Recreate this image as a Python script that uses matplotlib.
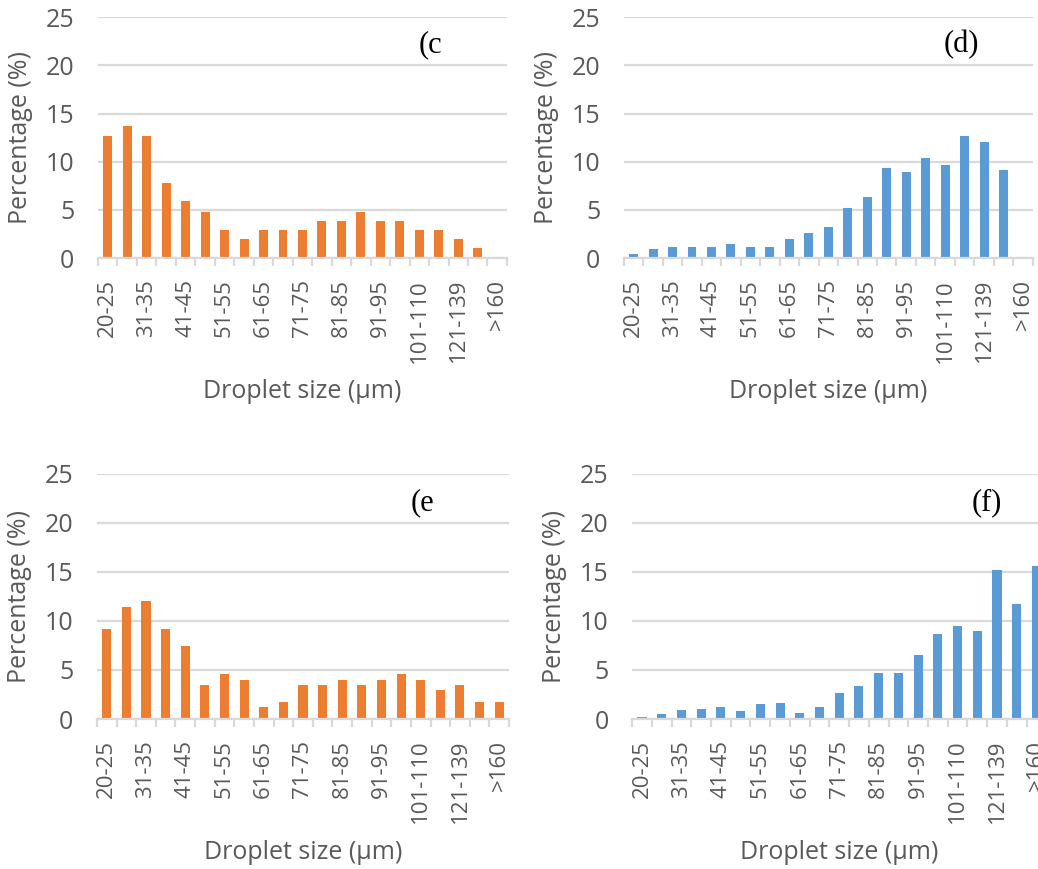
import matplotlib
matplotlib.use('Agg')
import matplotlib.pyplot as plt
import numpy as np

sizes = ['20-25', '26-30', '31-35', '36-40', '41-45', '46-50', '51-55', '56-60',
         '61-65', '66-70', '71-75', '76-80', '81-85', '86-90', '91-95', '96-100',
         '101-110', '111-120', '121-139', '140-160', '>160']

pct_c = [12.7, 13.7, 12.7, 7.8, 5.9, 4.8, 2.9, 2.0, 2.9, 2.9, 2.9, 3.9, 3.9, 4.8,
         3.9, 3.9, 2.9, 2.9, 2.0, 1.0, 0.0]
pct_d = [0.4, 0.9, 1.2, 1.2, 1.2, 1.5, 1.2, 1.1, 2.0, 2.6, 3.2, 5.2, 6.3, 9.3,
         8.9, 10.4, 9.7, 12.7, 12.0, 9.1, 0.0]
pct_e = [9.2, 11.4, 12.0, 9.2, 7.4, 3.5, 4.6, 4.0, 1.2, 1.7, 3.5, 3.5, 4.0, 3.5,
         4.0, 4.6, 4.0, 3.0, 3.5, 1.7, 1.7]
pct_f = [0.2, 0.5, 0.9, 1.0, 1.2, 0.8, 1.5, 1.6, 0.6, 1.2, 2.7, 3.4, 4.7, 4.7,
         6.5, 8.7, 9.5, 9.0, 15.2, 11.7, 15.6]

panel_tags = ['(c', '(d)', '(e', '(f)']

ORANGE = '#ED7D31'
BLUE = '#5B9BD5'
GREY = '#595959'
GRID = '#D9D9D9'

plt.rcParams['font.family'] = ['Open Sans', 'DejaVu Sans']

fig = plt.figure(figsize=(10.38, 8.69), dpi=100)

# left, bottom, width, height (figure fractions)
boxes = [
    [0.0944, 0.703, 0.394, 0.2773],
    [0.601, 0.703, 0.394, 0.2773],
    [0.0934, 0.1726, 0.397, 0.282],
    [0.609, 0.1726, 0.399, 0.282],
]
data = [pct_c, pct_d, pct_e, pct_f]
colors = [ORANGE, BLUE, ORANGE, BLUE]
tag_pos = [(16.55, 22.1), (16.85, 22.1), (16.1, 22.1), (17.5, 22.1)]

x = np.arange(len(sizes))
for box, vals, col, tag, tp in zip(boxes, data, colors, panel_tags, tag_pos):
    ax = fig.add_axes(box)
    ax.bar(x, vals, width=0.46, color=col, zorder=3)
    ax.set_xlim(-0.5, len(sizes) - 0.5)
    ax.set_ylim(0, 25)
    ax.set_yticks([0, 5, 10, 15, 20, 25])
    ax.yaxis.grid(True, color=GRID, linewidth=1.6, zorder=0)
    ax.set_axisbelow(True)
    for s in ['top', 'right', 'left']:
        ax.spines[s].set_visible(False)
    ax.spines['bottom'].set_color(GRID)
    ax.spines['bottom'].set_linewidth(1.6)
    ax.spines['bottom'].set_zorder(4)
    ax.set_xticks(x[::2])
    ax.set_xticklabels(sizes[::2], rotation=90)
    ax.set_xticks(np.arange(-0.5, len(sizes)), minor=True)
    ax.tick_params(axis='x', which='major', length=0, pad=15, labelsize=16, labelcolor=GREY)
    ax.tick_params(axis='x', which='minor', length=6, width=1.6, color=GRID)
    ax.tick_params(axis='y', length=0, pad=17, labelsize=18, labelcolor=GREY)
    ax.set_xlabel('Droplet size (µm)', fontsize=18, color=GREY, labelpad=12)
    ax.set_ylabel('Percentage (%)', fontsize=18, color=GREY, labelpad=9)
    ax.text(tp[0], tp[1], tag, ha='center', va='center', fontsize=22,
            family='Liberation Serif', color='black')

fig.savefig('out.png', dpi=100)
